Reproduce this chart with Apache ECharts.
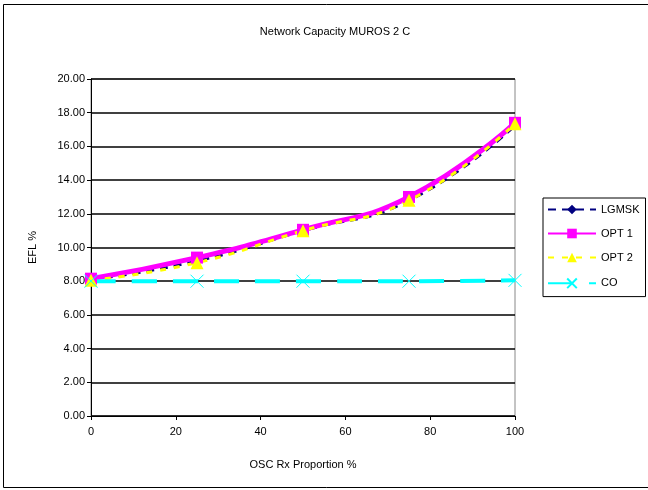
<!DOCTYPE html>
<html><head><meta charset="utf-8">
<script src="https://cdn.jsdelivr.net/npm/echarts@6/dist/echarts.min.js"></script>
<style>html,body{margin:0;padding:0;background:#fff}#c{width:648px;height:490px}</style>
</head><body><div id="c"></div>
<script>
var xValues = [0, 25, 50, 75, 100];
var lgmsk = [8.1, 9.2, 11.0, 12.8, 17.25];
var opt1 = [8.15, 9.4, 11.05, 13.0, 17.4];
var opt2 = [8.05, 9.1, 11.0, 12.8, 17.35];
var co = [8.0, 8.0, 8.0, 8.0, 8.05];
var seriesNames = ['LGMSK', 'OPT 1', 'OPT 2', 'CO'];
var title = 'Network Capacity MUROS 2 C';

function pairs(v){ return xValues.map(function(x,i){ return [x, v[i]]; }); }
var F = 'Liberation Sans, Arial, sans-serif';
var chart = echarts.init(document.getElementById('c'));
chart.setOption({
  animation: false,
  backgroundColor: '#fff',
  title: { text: title, left: 330, top: 21, textAlign: 'center',
    textStyle: { fontFamily: F, fontSize: 11, fontWeight: 'normal', color: '#000' } },
  graphic: [{ type: 'rect', shape: { x: 3.5, y: 4.5, width: 700, height: 483 },
    style: { fill: 'none', stroke: '#000', lineWidth: 1 }, silent: true }],
  grid: { left: 91, right: 133, top: 79, bottom: 74, show: true, borderColor: '#888', borderWidth: 1 },
  legend: { orient: 'vertical', left: 543, top: 198, itemWidth: 48, itemHeight: 12, itemGap: 13,
    padding: [6, 6, 6, 4], borderColor: '#000', borderWidth: 1,
    textStyle: { fontFamily: F, fontSize: 11, color: '#000' },
    data: seriesNames },
  xAxis: { type: 'value', min: 0, max: 100, interval: 20,
    name: 'OSC Rx Proportion %', nameLocation: 'middle', nameGap: 43,
    nameTextStyle: { fontFamily: F, fontSize: 11, color: '#000' },
    axisLine: { lineStyle: { color: '#000', width: 1 } },
    axisTick: { show: true, length: 4, lineStyle: { color: '#000' } },
    axisLabel: { fontFamily: F, fontSize: 11, color: '#000', margin: 10 },
    splitLine: { show: false } },
  yAxis: { type: 'value', min: 0, max: 20, interval: 2,
    name: 'EFL %', nameLocation: 'middle', nameGap: 53, nameRotate: 90,
    nameTextStyle: { fontFamily: F, fontSize: 11, color: '#000' },
    axisLine: { show: true, lineStyle: { color: '#000', width: 1 } },
    axisTick: { show: true, length: 4, lineStyle: { color: '#000' } },
    axisLabel: { fontFamily: F, fontSize: 11, color: '#000', margin: 6,
      formatter: function(v){ return v.toFixed(2); } },
    splitLine: { show: true, lineStyle: { color: '#000', width: 1.5 } } },
  series: [
    { name: seriesNames[0], type: 'line', smooth: true, data: pairs(lgmsk),
      symbol: 'diamond', symbolSize: 8,
      lineStyle: { color: '#000080', width: 3, type: [8, 6] },
      itemStyle: { color: '#000080' } },
    { name: seriesNames[1], type: 'line', smooth: true, data: pairs(opt1),
      symbol: 'rect', symbolSize: 12,
      lineStyle: { color: '#FF00FF', width: 5 },
      itemStyle: { color: '#FF00FF' } },
    { name: seriesNames[2], type: 'line', smooth: true, data: pairs(opt2),
      symbol: 'triangle', symbolSize: 13,
      lineStyle: { color: '#FFFF00', width: 3, type: [6, 8] },
      itemStyle: { color: '#FFFF00' } },
    { name: seriesNames[3], type: 'line', smooth: true, data: pairs(co),
      symbol: 'path://M0,0L10,10M10,0L0,10', symbolSize: 13,
      lineStyle: { color: '#00FFFF', width: 4, type: [25, 16] },
      itemStyle: { color: 'none', borderColor: '#00FFFF', borderWidth: 1 } }
  ]
});
</script></body></html>
